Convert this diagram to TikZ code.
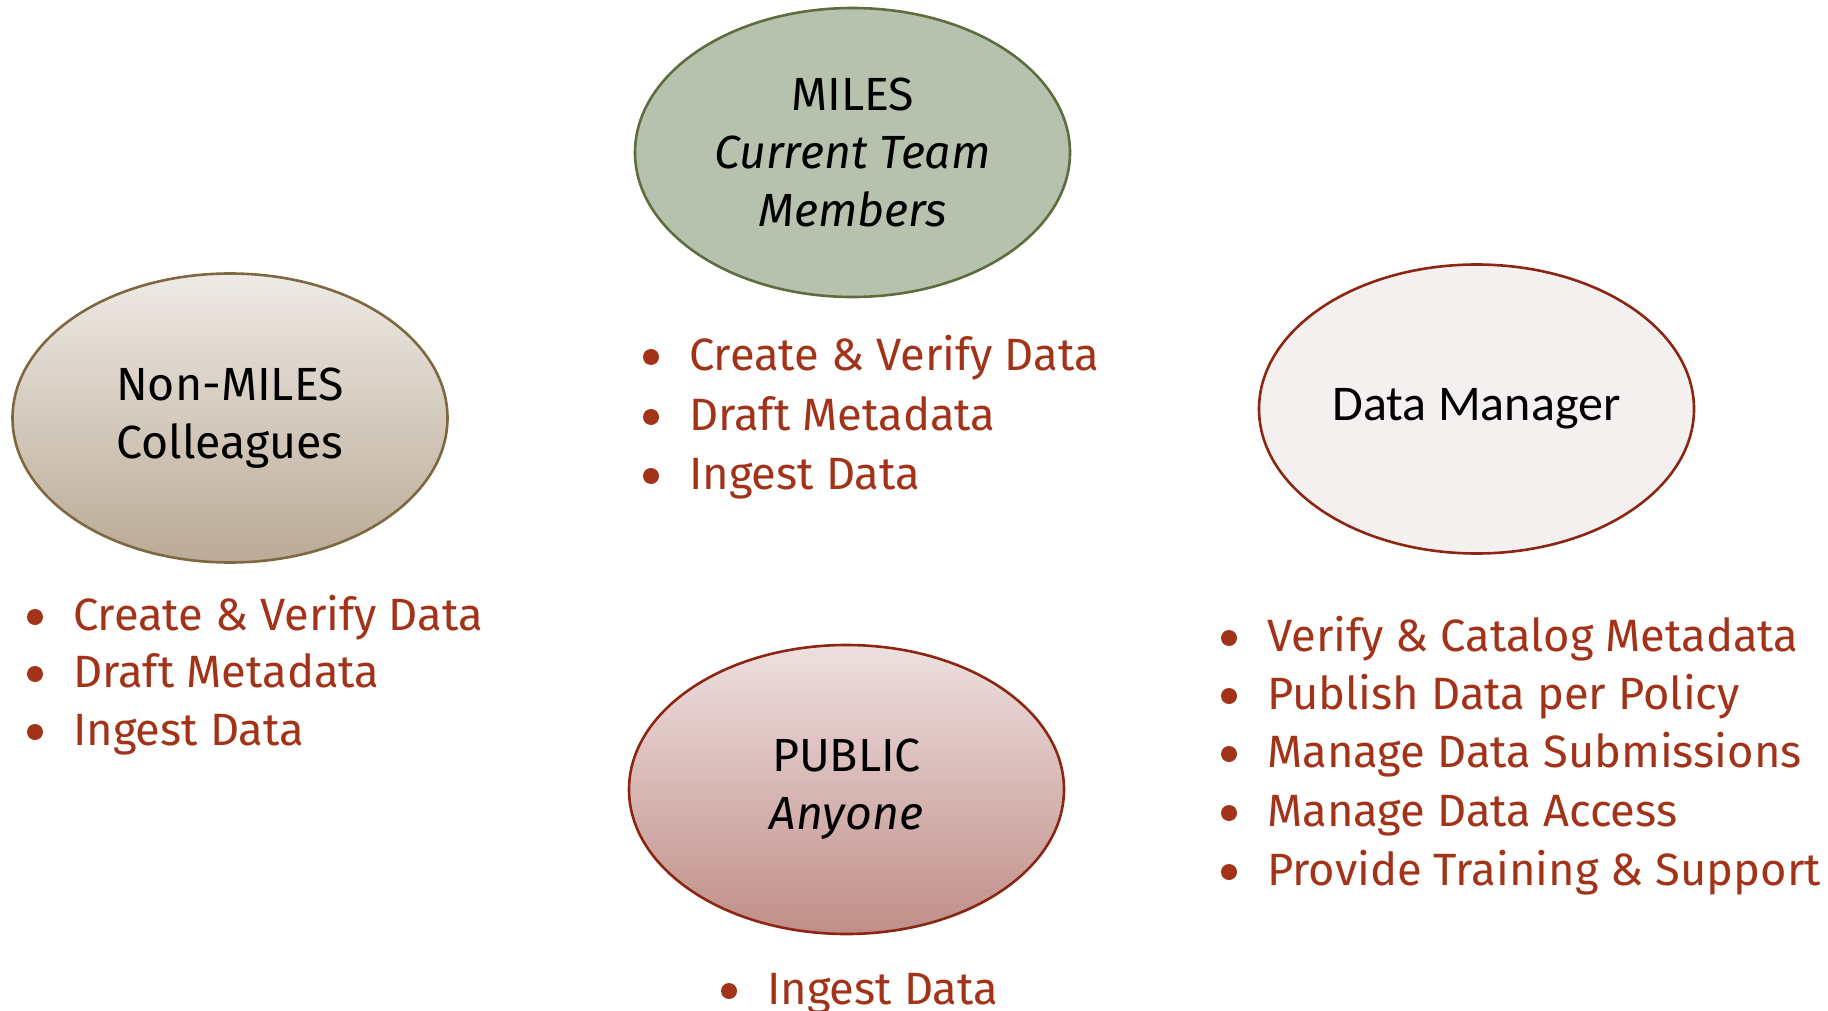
\documentclass[tikz,border=0pt]{standalone}
\usepackage{fontspec}
\setmainfont{Fira Sans}
\newfontfamily\dmfont{Carlito}
\usetikzlibrary{shapes.geometric,calc}
\definecolor{txtred}{RGB}{162,50,24}
\definecolor{redline}{RGB}{140,38,18}
\definecolor{milesfill}{RGB}{182,194,173}
\definecolor{milesline}{RGB}{94,108,62}
\definecolor{nontop}{RGB}{238,234,229}
\definecolor{nonbot}{RGB}{186,170,150}
\definecolor{nonline}{RGB}{126,104,64}
\definecolor{dmfill}{RGB}{243,240,239}
\definecolor{pubtop}{RGB}{238,224,224}
\definecolor{pubbot}{RGB}{192,142,136}
\begin{document}
\begin{tikzpicture}[x=1pt,y=-1pt,
  role/.style={ellipse, minimum width=435pt, minimum height=289pt, inner sep=0pt,
    line width=2.6pt, align=center, font=\fontsize{46.5}{58}\selectfont},
  item/.style={anchor=base west, inner sep=0pt, text=txtred,
    font=\fontsize{45.3}{50}\selectfont},
  dot/.style={fill=txtred}]
\useasboundingbox (0,0) rectangle (1828,1011);
\node[role, draw=milesline, fill=milesfill] (miles) at (852.5,152.5)
  {MILES\\\textit{Current Team}\\\textit{Members}};
\node[role, draw=nonline, top color=nontop, bottom color=nonbot] (non) at (230,418)
  {Non-MILES\\Colleagues};
\node[role, draw=redline, fill=dmfill, font=\dmfont\fontsize{50}{57}\selectfont] (dm) at (1476.5,409)
  {Data Manager};
\node[role, draw=redline, top color=pubtop, bottom color=pubbot] (pub) at (846.5,789.5)
  {PUBLIC\\\textit{Anyone}};
% lists
\node[item] (m1) at (689,370) {Create \& Verify Data};
\node[item] (m2) at (689,430) {Draft Metadata};
\node[item] (m3) at (689,489) {Ingest Data};
\node[item] (n1) at (73,630) {Create \& Verify Data};
\node[item] (n2) at (73,687) {Draft Metadata};
\node[item] (n3) at (73,745) {Ingest Data};
\node[item] (d1) at (1267,651) {Verify \& Catalog Metadata};
\node[item] (d2) at (1267,709) {Publish Data per Policy};
\node[item] (d3) at (1267,767) {Manage Data Submissions};
\node[item] (d4) at (1267,826) {Manage Data Access};
\node[item] (d5) at (1267,885) {Provide Training \& Support};
\node[item] (p1) at (767,1004) {Ingest Data};
\foreach \n in {m1,m2,m3,n1,n2,n3,d1,d2,d3,d4,d5,p1}
  \fill[dot] ($(\n.base west)+(-38,-13)$) circle (8);
\end{tikzpicture}
\end{document}
